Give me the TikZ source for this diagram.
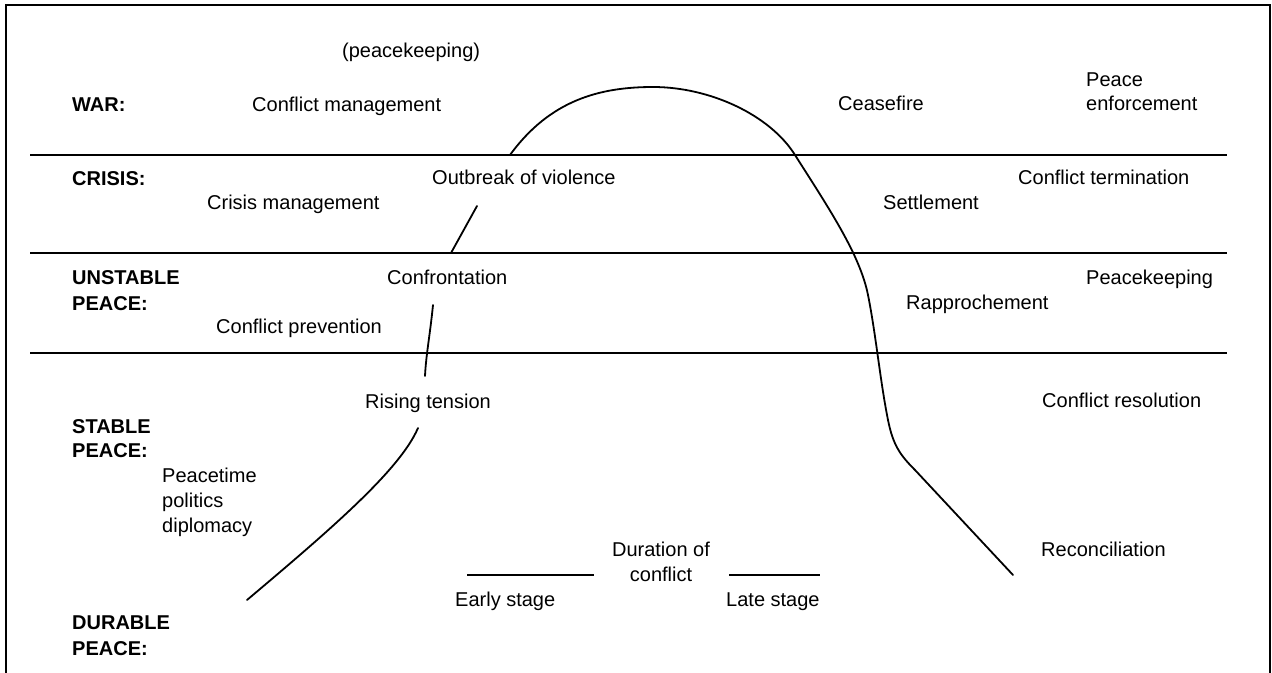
\documentclass[tikz,border=0pt]{standalone}
\usepackage{fontspec}
\setmainfont{Liberation Sans}
\begin{document}
\begin{tikzpicture}[x=1bp,y=-1bp,
  lbl/.style={anchor=base west, inner sep=0pt, font=\fontsize{20bp}{25bp}\selectfont, align=left},
  zone/.style={lbl, font=\fontsize{20bp}{25bp}\selectfont\bfseries},
  frameline/.style={line width=2.4bp, line join=miter},
  level/.style={line width=1.3bp},
  curveline/.style={line width=1.8bp, line cap=round},
  stageline/.style={line width=1.5bp}]
\useasboundingbox (0,0) rectangle (1272,673);
% frame
\coordinate (fbl) at (6,673);
\coordinate (ftl) at (6,5);
\coordinate (ftr) at (1270,5);
\coordinate (fbr) at (1270,673);
\draw[frameline] (fbl) -- (ftl) -- (ftr) -- (fbr);
% level lines
\coordinate (l1a) at (30,155);  \coordinate (l1b) at (1227,155);
\coordinate (l2a) at (30,253);  \coordinate (l2b) at (1227,253);
\coordinate (l3a) at (30,353);  \coordinate (l3b) at (1227,353);
\draw[level] (l1a) -- (l1b);
\draw[level] (l2a) -- (l2b);
\draw[level] (l3a) -- (l3b);
% zone labels (multi-line nodes: base = last line)
\node[zone] (war) at (72,112) {WAR:};
\node[zone] (crisis) at (72,186) {CRISIS:};
\node[zone, font=\fontsize{20bp}{26bp}\selectfont\bfseries] (unstable) at (72,310) {UNSTABLE\\PEACE:};
\node[zone, font=\fontsize{20bp}{24bp}\selectfont\bfseries] (stable) at (72,457) {STABLE\\PEACE:};
\node[zone, font=\fontsize{20bp}{26bp}\selectfont\bfseries] (durable) at (72,655) {DURABLE\\PEACE:};
% left labels
\node[lbl] (pk1) at (342,58) {(peacekeeping)};
\node[lbl] (cm) at (252,112) {Conflict management};
\node[lbl] (crm) at (207,210) {Crisis management};
\node[lbl] (cp) at (216,333) {Conflict prevention};
\node[lbl] (ptp) at (162,532) {Peacetime\\politics\\diplomacy};
% curve labels
\node[lbl] (ov) at (432,185) {Outbreak of violence};
\node[lbl] (conf) at (387,284) {Confrontation};
\node[lbl] (rt) at (365,408) {Rising tension};
% right labels
\node[lbl] (cf) at (838,111) {Ceasefire};
\node[lbl, font=\fontsize{20bp}{24bp}\selectfont] (pe) at (1086,111) {Peace\\enforcement};
\node[lbl] (set) at (883,210) {Settlement};
\node[lbl] (ct) at (1018,185) {Conflict termination};
\node[lbl] (rap) at (906,309) {Rapprochement};
\node[lbl] (pk2) at (1086,284) {Peacekeeping};
\node[lbl] (cr) at (1042,407) {Conflict resolution};
\node[lbl] (rec) at (1041,556) {Reconciliation};
% duration
\node[lbl, anchor=base, align=center] (dur) at (661,581) {Duration of\\conflict};
\node[lbl] (early) at (455,606) {Early stage};
\node[lbl] (late) at (726,606) {Late stage};
\coordinate (s1a) at (467,575); \coordinate (s1b) at (594,575);
\coordinate (s2a) at (729,575); \coordinate (s2b) at (820,575);
\draw[stageline] (s1a) -- (s1b);
\draw[stageline] (s2a) -- (s2b);
% curve pieces
\coordinate (a0) at (247,600); \coordinate (a1) at (418,428);
\draw[curveline] (a0) .. controls (330,530) and (400,470) .. (a1);
\coordinate (b0) at (425,376); \coordinate (b1) at (433,305);
\draw[curveline] (b0) .. controls (426,355) and (430,335) .. (b1);
\coordinate (c0) at (451,253); \coordinate (c1) at (477,206);
\draw[curveline] (c0) -- (c1);
\coordinate (d0) at (510,155);
\coordinate (d1) at (653,87);
\coordinate (d2) at (795,155);
\coordinate (d3) at (868,295);
\coordinate (d4) at (888,420);
\coordinate (d5) at (915,470);
\coordinate (d6) at (1013,575);
\draw[curveline] (d0) .. controls (550,100) and (600,87) .. (d1)
  .. controls (710,87) and (770,115) .. (d2)
  .. controls (830,210) and (860,255) .. (d3)
  .. controls (876,335) and (880,380) .. (d4)
  .. controls (893,445) and (900,455) .. (d5)
  -- (d6);
\end{tikzpicture}
\end{document}
